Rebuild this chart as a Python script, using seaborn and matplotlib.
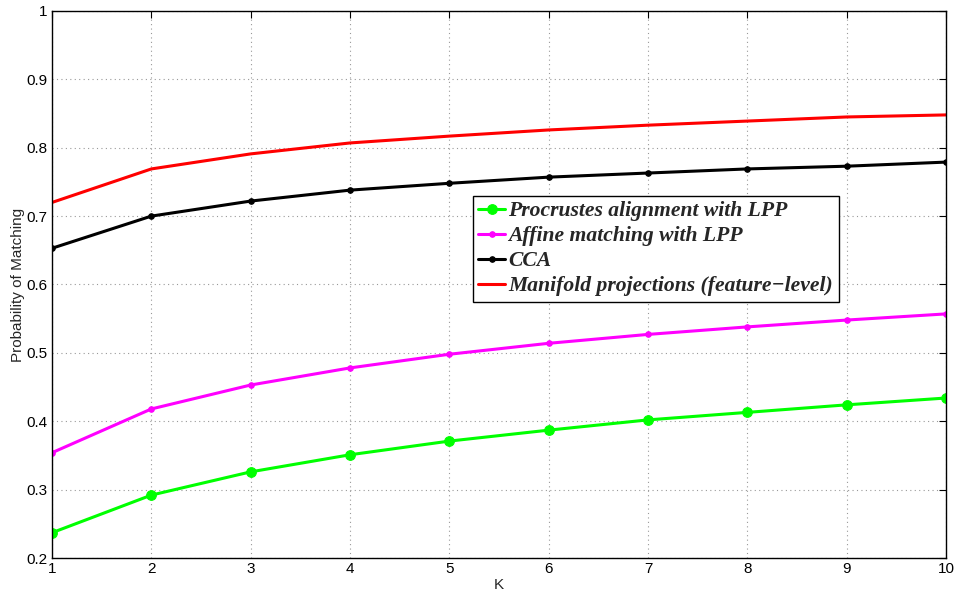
import matplotlib
matplotlib.use("Agg")
import matplotlib.pyplot as plt
import seaborn as sns
import pandas as pd

K = [1, 2, 3, 4, 5, 6, 7, 8, 9, 10]
procrustes = [0.237, 0.292, 0.326, 0.351, 0.371, 0.387, 0.402, 0.413, 0.424, 0.434]
affine = [0.354, 0.418, 0.453, 0.478, 0.498, 0.514, 0.527, 0.538, 0.548, 0.557]
cca = [0.653, 0.700, 0.722, 0.738, 0.748, 0.757, 0.763, 0.769, 0.773, 0.779]
manifold = [0.720, 0.769, 0.791, 0.807, 0.817, 0.826, 0.833, 0.839, 0.845, 0.848]
labels = ["Procrustes alignment with LPP", "Affine matching with LPP", "CCA",
          "Manifold projections (feature\u2212level)"]
yticks = [0.2, 0.3, 0.4, 0.5, 0.6, 0.7, 0.8, 0.9, 1]
ytick_labels = ["0.2", "0.3", "0.4", "0.5", "0.6", "0.7", "0.8", "0.9", "1"]

sns.set_style("white")
plt.rcParams['font.family'] = ['Liberation Sans', 'DejaVu Sans']

fig = plt.figure(figsize=(9.56, 5.9), dpi=100)
ax = fig.add_axes([0.0544, 0.0542, 0.9351, 0.9272])

series = [
    (procrustes, labels[0], "#00ff00", "o", 7),
    (affine, labels[1], "#ff00ff", "o", 4),
    (cca, labels[2], "#000000", "o", 4),
    (manifold, labels[3], "#ff0000", None, 0),
]
for vals, lab, col, mk, ms in series:
    df = pd.DataFrame({"K": K, "v": vals})
    kw = dict(marker=mk, markersize=ms, markeredgecolor=col) if mk else {}
    sns.lineplot(data=df, x="K", y="v", ax=ax, color=col, linewidth=2.2,
                 label=lab, **kw)

ax.set_xlim(1, 10)
ax.set_ylim(0.2, 1)
ax.set_xticks(K)
ax.set_xticklabels([str(k) for k in K])
ax.set_yticks(yticks)
ax.set_yticklabels(ytick_labels)
ax.grid(True, linestyle=(0, (1, 3)), color="#999999", linewidth=0.8)
ax.tick_params(direction="in", top=True, right=True, length=5, width=0.8,
               labelsize=11, colors="black", pad=3)
for s in ax.spines.values():
    s.set_color("black")
    s.set_linewidth(1.0)
ax.set_xlabel("K", fontsize=11, labelpad=1)
ax.set_ylabel("Probability of Matching", fontsize=11, labelpad=1)

leg = ax.legend(loc="upper left", bbox_to_anchor=(0.4705, 0.662),
                prop=dict(family="Liberation Serif", weight="bold", style="italic", size=15.6),
                frameon=True, fancybox=False, edgecolor="black", framealpha=1,
                handlelength=1.25, handletextpad=0.15, borderpad=0.25,
                labelspacing=0.22, borderaxespad=0)
leg.get_frame().set_linewidth(1.0)

fig.savefig("out.png", dpi=100)
